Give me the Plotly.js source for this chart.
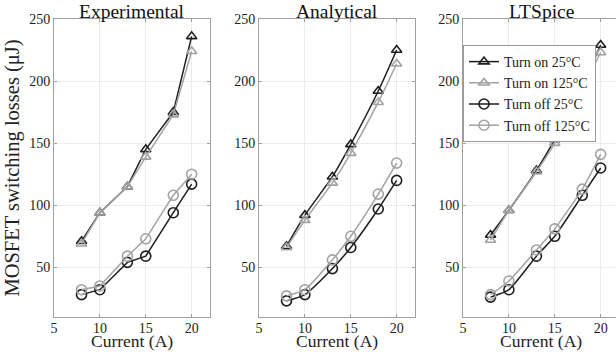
<!DOCTYPE html>
<html>
<head>
<meta charset="utf-8">
<script src="https://cdn.plot.ly/plotly-3.0.1.min.js"></script>
<style>
html,body{margin:0;padding:0;overflow:hidden;background:#fff;}
#chart{width:620px;height:352px;}
</style>
</head>
<body>
<div id="chart"></div>
<script>
const current = [8, 10, 13, 15, 18, 20];
const panelTitles = ["Experimental", "Analytical", "LTSpice"];
const xTitle = "Current (A)";
const yTitle = "MOSFET switching losses (μJ)";
const seriesNames = ["Turn on 25°C", "Turn on 125°C", "Turn off 25°C", "Turn off 125°C"];

// Experimental
const expOn25 = [71, 94, 115, 145, 175, 236];
const expOn125 = [69, 94, 115, 139, 173, 224];
const expOff25 = [28, 32, 54, 59, 94, 117];
const expOff125 = [32, 35, 59, 73, 108, 125];
// Analytical
const anaOn25 = [67, 92, 123, 149, 192, 225];
const anaOn125 = [66, 88, 118, 142, 183, 214];
const anaOff25 = [23, 28, 49, 66, 97, 120];
const anaOff125 = [27, 32, 56, 75, 109, 134];
// LTSpice
const ltsOn25 = [76, 96, 128, 153, 197, 229];
const ltsOn125 = [72, 96, 127, 150, 194, 223];
const ltsOff25 = [26, 32, 59, 75, 108, 130];
const ltsOff125 = [28, 39, 64, 81, 113, 141];

const xTicks = [5, 10, 15, 20];
const yTicks = [50, 100, 150, 200, 250];

const panels = [
  [expOn25, expOn125, expOff25, expOff125],
  [anaOn25, anaOn125, anaOff25, anaOff125],
  [ltsOn25, ltsOn125, ltsOff25, ltsOff125]
];

const BLACK = "#1e1e1e", GRAY = "#a3a3a3";
const styles = [
  {color: BLACK, symbol: "triangle-up-open", size: 9},
  {color: GRAY, symbol: "triangle-up-open", size: 9},
  {color: BLACK, symbol: "circle-open", size: 10},
  {color: GRAY, symbol: "circle-open", size: 10}
];

const traces = [];
panels.forEach((p, i) => {
  const ax = i === 0 ? "" : String(i + 1);
  p.forEach((vals, j) => {
    traces.push({
      x: current, y: vals, type: "scatter", mode: "lines+markers",
      name: seriesNames[j], showlegend: i === 2,
      xaxis: "x" + ax, yaxis: "y" + ax,
      line: {color: styles[j].color, width: 1.5, shape: i === 0 ? "linear" : "spline", smoothing: 0.6},
      marker: {symbol: styles[j].symbol, size: styles[j].size, color: styles[j].color,
               line: {color: styles[j].color, width: 1.6}}
    });
  });
});

const W = 620, L = 54, R = 1, T = 19, B = 35, H = 352;
const PW = W - L - R, PH = H - T - B;
const px = v => (v - L) / PW;
const py = v => (H - B - v) / PH;
const domains = [[px(54), px(210)], [px(259), px(415)], [px(463), px(619)]];

const serif = "Liberation Serif, Times New Roman, serif";
const tickFont = {family: serif, size: 14, color: "#222"};
function xa(d) {
  return {domain: d, range: [5, 22], tickvals: xTicks, ticktext: xTicks.map(String),
    showgrid: true, gridcolor: "#ececec", gridwidth: 1, zeroline: false,
    showline: true, linecolor: "#a0a0a0", linewidth: 1, mirror: "ticks",
    ticks: "inside", ticklen: 3, tickcolor: "#a0a0a0", tickfont: tickFont,
    ticklabelstandoff: -2};
}
function ya(anchor, withTitle) {
  const o = {range: [10, 250], tickvals: yTicks, ticktext: yTicks.map(String), anchor: anchor,
    showgrid: true, gridcolor: "#ececec", gridwidth: 1, zeroline: false,
    showline: true, linecolor: "#a0a0a0", linewidth: 1, mirror: "ticks",
    ticks: "inside", ticklen: 3, tickcolor: "#a0a0a0", tickfont: tickFont};
  if (withTitle) o.title = {text: yTitle, font: {family: serif, size: 20.5, color: "#222"}, standoff: 4};
  return o;
}

const annotations = [];
panelTitles.forEach((t, i) => {
  const cx = (domains[i][0] + domains[i][1]) / 2;
  annotations.push({
    text: t, xref: "paper", yref: "paper", x: cx, y: py(0),
    xanchor: "center", yanchor: "top", showarrow: false, borderpad: 0,
    font: {family: serif, size: 19.5, color: "#111"}
  });
  annotations.push({
    text: xTitle, xref: "paper", yref: "paper", x: cx, y: py(352),
    xanchor: "center", yanchor: "bottom", showarrow: false, borderpad: 0,
    font: {family: serif, size: 17.5, color: "#222"}
  });
});

const layout = {
  width: W, height: H,
  margin: {l: L, r: R, t: T, b: B, pad: 0},
  paper_bgcolor: "#fff", plot_bgcolor: "#fff",
  xaxis: xa(domains[0]), yaxis: ya("x", true),
  xaxis2: xa(domains[1]), yaxis2: ya("x2", false),
  xaxis3: xa(domains[2]), yaxis3: ya("x3", false),
  annotations: annotations,
  legend: {x: px(463), y: py(45), xanchor: "left", yanchor: "top",
    bgcolor: "#fff", bordercolor: "#9a9a9a", borderwidth: 1,
    font: {family: serif, size: 14, color: "#222"},
    itemwidth: 30, tracegroupgap: 0},
  showlegend: true
};

Plotly.newPlot("chart", traces, layout, {displayModeBar: false, staticPlot: true});
</script>
</body>
</html>
